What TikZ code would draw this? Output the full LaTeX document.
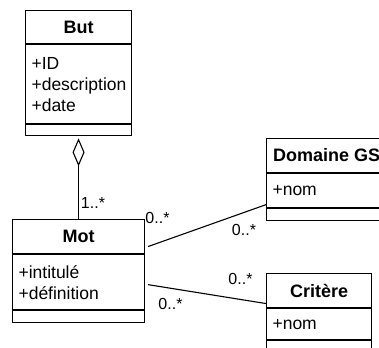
\documentclass[tikz,border=0pt]{standalone}
\usepackage{fontspec}
\setmainfont{Liberation Sans}
\usetikzlibrary{arrows.meta,positioning,calc}
\hyphenpenalty=10000
\tikzset{
  umlhead/.style={draw, fill=white, line width=1.1pt, inner sep=0pt, font=\fontsize{18}{21}\selectfont\bfseries},
  umlattr/.style={draw, fill=white, line width=1.1pt, inner xsep=6pt, inner ysep=0pt, align=left, font=\fontsize{17.5}{21}\selectfont},
  umlops/.style={draw, fill=white, line width=1.1pt, inner sep=0pt},
  assoc/.style={line width=1.1pt},
  mult/.style={inner sep=0pt, font=\fontsize{16}{19}\selectfont},
}
\begin{document}
\begin{tikzpicture}[x=1pt,y=-1pt]
  \useasboundingbox (0,0) rectangle (379,347);
  \clip (0,0) rectangle (379,347);
  \node[umlhead, minimum width=106pt, minimum height=33pt, anchor=north west] (but) at (25,10) {But};
  \node[umlattr, text width=94pt, minimum height=79pt, below=0pt of but] (but-attr) {+ID\\+description\\+date};
  \node[umlops, minimum width=106pt, minimum height=11pt, below=0pt of but-attr] (but-ops) {};

  \node[umlhead, minimum width=132pt, minimum height=34pt, anchor=north west] (mot) at (12,219) {Mot};
  \node[umlattr, text width=120pt, minimum height=55pt, below=0pt of mot] (mot-attr) {+intitulé\\+définition};
  \node[umlops, minimum width=132pt, minimum height=12pt, below=0pt of mot-attr] (mot-ops) {};

  \node[umlhead, minimum width=120pt, minimum height=34pt, anchor=north west] (dom) at (266,138) {Domaine GS};
  \node[umlattr, text width=108pt, minimum height=34pt, below=0pt of dom] (dom-attr) {+nom};
  \node[umlops, minimum width=120pt, minimum height=12pt, below=0pt of dom-attr] (dom-ops) {};

  \node[umlhead, minimum width=105pt, minimum height=34pt, anchor=north west] (crit) at (266,273) {Critère};
  \node[umlattr, text width=93pt, minimum height=31pt, below=0pt of crit] (crit-attr) {+nom};
  \node[umlops, minimum width=105pt, minimum height=12pt, below=0pt of crit-attr] (crit-ops) {};

  \draw[assoc, {Diamond[open,length=28pt,width=12pt]}-, shorten <=2pt] (but-ops) -- (mot);
  \draw[assoc] ([xshift=3pt,yshift=-10pt]mot.east) -- ([yshift=-14pt]dom-attr.west);
  \draw[assoc] ([xshift=3pt,yshift=-2.5pt]mot-attr.east) -- ([yshift=-13pt]crit.west);

  \node[mult] (m-but) at (93,203) {1..*};
  \node[mult] (m-mot-dom) at (157.5,218) {0..*};
  \node[mult] (m-dom) at (244,230) {0..*};
  \node[mult] (m-crit) at (240.5,279) {0..*};
  \node[mult] (m-mot-crit) at (170.5,304) {0..*};
\end{tikzpicture}
\end{document}
